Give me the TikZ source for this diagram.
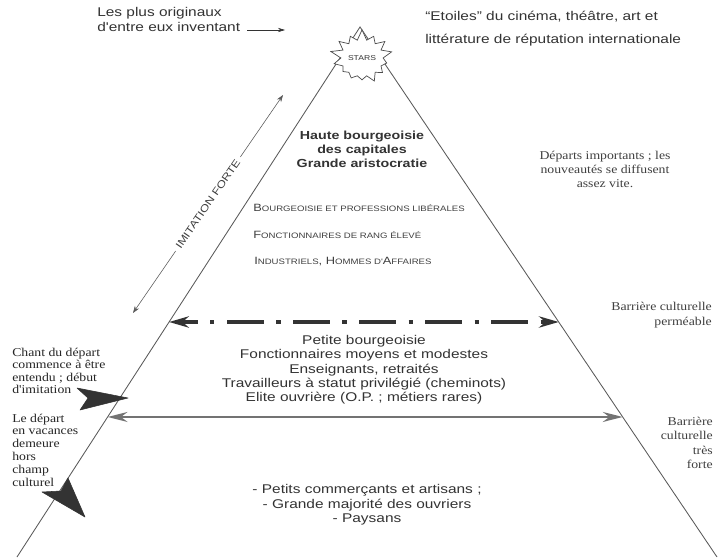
\documentclass[tikz,border=0pt]{standalone}
\usepackage{fontspec}
\newfontfamily\sansw{Liberation Sans}[FakeStretch=1.22]
\newfontfamily\romanw{Liberation Serif}[FakeStretch=1.15]
\usetikzlibrary{
    arrows.meta,
    calc,
    shapes.symbols
}
\newcommand{\petitcap}[1]{{\fontsize{5.6pt}{6pt}\selectfont #1}}
\tikzset{
    % Colors
    ink color/.style={black!80},
    side color/.style={black!65},
    %
    % Texts
    sans text/.style={font=\sansw\fontsize{9pt}{10.2pt}\selectfont, text=black!80, inner sep=0pt},
    serif note/.style={font=\romanw\fontsize{8.5pt}{8.7pt}\selectfont, text=black!85, inner sep=0pt},
    caps line/.style={font=\sansw\fontsize{7.5pt}{8pt}\selectfont, text=black!75, inner sep=0pt, anchor=west},
    %
    % Arrows
    arrow tip/.tip={Stealth},
    arr/.style={->,>={Stealth[length=5pt,width=3pt]}},
    double arr/.style={<->,>={Stealth[length=5pt,width=3.5pt]}},
    pyramid side/.style={side color, line width=0.6pt},
    permeable barrier/.style={<->, >={Stealth[length=14pt,width=8pt]}, line width=2.4pt, ink color,
        dash pattern=on 26pt off 9pt on 3pt off 9pt, dash phase=14pt},
    solid barrier/.style={<->, >={Stealth[length=14pt,width=7pt]}, line width=2pt, black!55},
    big head/.style={fill=black!80, draw=black!80, line join=round}
}

\begin{document}
\begin{tikzpicture}[x=0.025cm,y=-0.025cm]
    \useasboundingbox (0,0) rectangle (720,557);
    \fill[white] (0,0) rectangle (720,557);
    % pyramid
    \coordinate (apex) at (360,27);
    \coordinate (baseL) at (17,557);
    \coordinate (baseR) at (717,557);
    \draw[pyramid side] (baseL) -- (apex) -- (baseR);
    \node[starburst, draw=black!70, fill=white, line width=0.5pt, starburst points=14,
        starburst point height=8pt, random starburst=17, minimum width=46pt, minimum height=42pt,
        inner sep=0pt, font=\sansw\fontsize{5pt}{5pt}\selectfont, text=black!80] (stars) at (362,58) {STARS};
    % top texts
    \node[sans text, align=left, anchor=north west, font=\sansw\fontsize{9pt}{10.7pt}\selectfont] (inventeurs) at (97,7)
        {Les plus originaux\\d'entre eux inventant};
    \coordinate (versStars) at (285,30);
    \draw[arr, ink color] ([xshift=5pt]inventeurs.east |- versStars) -- (versStars);
    \node[sans text, align=left, anchor=north west, font=\sansw\fontsize{9pt}{16pt}\selectfont] (etoiles) at (425,11)
        {“Etoiles” du cinéma, théâtre, art et\\littérature de réputation internationale};
    % imitation
    \coordinate (imitBas) at (133,313);
    \coordinate (imitHaut) at (283,95);
    \draw[double arr, side color] (imitBas) -- node[sloped, fill=white, inner sep=3pt,
        font=\sansw\fontsize{7.2pt}{8pt}\selectfont, text=black!75] (imitation) {IMITATION FORTE} (imitHaut);
    % upper classes
    \node[sans text, align=center, font=\sansw\bfseries\fontsize{8.3pt}{10pt}\selectfont] (hauteBourg) at (362,149)
        {Haute bourgeoisie\\des capitales\\Grande aristocratie};
    \node[caps line] (bourgLib) at (253,208) {B\petitcap{OURGEOISIE ET PROFESSIONS LIBÉRALES}};
    \node[caps line] (fonctElev) at (253,235) {F\petitcap{ONCTIONNAIRES DE RANG ÉLEVÉ}};
    \node[caps line] (industriels) at (254,262) {I\petitcap{NDUSTRIELS}, H\petitcap{OMMES D'}A\petitcap{FFAIRES}};
    \node[serif note, align=center, font=\romanw\fontsize{8.5pt}{10pt}\selectfont, text=black!75] (departs) at (605,169)
        {Départs importants ; les\\nouveautés se diffusent\\assez vite.};
    % barriers
    \coordinate (permL) at ($(apex)!0.5566!(baseL)$);
    \coordinate (permR) at ($(apex)!0.5566!(baseR)$);
    \coordinate (fortL) at ($(apex)!0.7358!(baseL)$);
    \coordinate (fortR) at ($(apex)!0.7358!(baseR)$);
    \draw[permeable barrier] (permL) -- (permR);
    \draw[solid barrier] (fortL) -- (fortR);
    \node[serif note, align=right, anchor=east, font=\romanw\fontsize{8.5pt}{10.5pt}\selectfont, text=black!75] (permeable) at (712,315)
        {Barrière culturelle\\perméable};
    \node[serif note, align=right, anchor=east, font=\romanw\fontsize{8.5pt}{10.2pt}\selectfont, text=black!75] (tresForte) at (713,443)
        {Barrière\\culturelle\\très\\forte};
    % middle classes
    \node[sans text, align=center] (petiteBourg) at (364,370)
        {Petite bourgeoisie\\Fonctionnaires moyens et modestes\\Enseignants, retraités\\Travailleurs à statut privilégié (cheminots)\\Elite ouvrière (O.P. ; métiers rares)};
    % left notes
    \node[serif note, align=left, anchor=west] (chantDepart) at (12,371)
        {Chant du départ\\commence à être\\entendu ; début\\d'imitation};
    \fill[big head] (128,398) -- (77,388) -- (88,398) -- (80,410) -- cycle;
    \node[serif note, align=left, anchor=west, font=\romanw\fontsize{8.5pt}{9.1pt}\selectfont] (vacances) at (12,450)
        {Le départ\\en vacances\\demeure\\hors\\champ\\culturel};
    \fill[big head] (85,517) -- (68,478) -- (61,491) -- (42,492) -- cycle;
    % lower classes
    \node[sans text, align=center, font=\sansw\fontsize{9pt}{10.3pt}\selectfont] (classesPop) at (367,505)
        {- Petits commerçants et artisans ;\\- Grande majorité des ouvriers\\- Paysans};
\end{tikzpicture}
\end{document}
